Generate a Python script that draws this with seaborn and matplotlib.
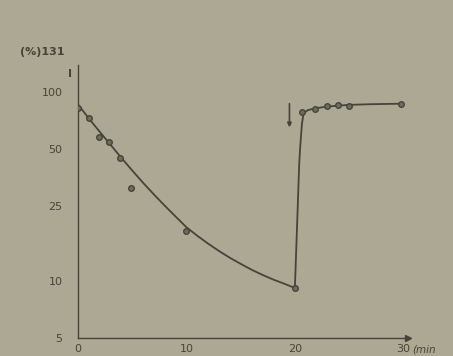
import matplotlib
matplotlib.use("Agg")
import matplotlib.pyplot as plt
import seaborn as sns
import pandas as pd

# measured points (time in min, % uptake of 131I)
pt_time = [0, 1.0, 1.95, 2.9, 3.85, 4.9, 10, 20, 20.7, 21.9, 23, 24, 25, 29.8]
pt_value = [83, 73, 58, 54.6, 45, 31, 18.4, 9.2, 78.7, 82, 84.4, 86, 84.6, 87]

# fitted curve
curve_time = [0, 1, 2, 3, 4, 5, 6, 7, 8, 9, 10,
              11, 12, 13, 14, 15, 16, 17, 18, 19, 20,
              20.2, 20.4, 20.5, 20.65, 20.8, 21.2, 22, 23, 24, 25, 27, 29.8]
curve_value = [86.4, 72.8, 61.9, 52.8, 45.0, 38.6, 33.2, 28.8, 25.1, 22.0, 19.3,
               17.4, 15.8, 14.45, 13.3, 12.35, 11.5, 10.8, 10.2, 9.7, 9.2,
               19.5, 42, 52.4, 68, 77.5, 80.5, 82.5, 84, 85, 85.8, 86.5, 87]

yticks = [5, 10, 25, 50, 100]
xticks = [0, 10, 20, 30]

bg = "#ada893"
ink = "#45443b"

sns.set_style("white")
plt.rcParams['font.family'] = ['DejaVu Sans']

fig = plt.figure(figsize=(4.53, 3.56), dpi=100)
fig.patch.set_facecolor(bg)
ax = fig.add_axes([0.172, 0.0506, 0.728, 0.766])
ax.set_facecolor(bg)

curve = pd.DataFrame({"t": curve_time, "v": curve_value})
pts = pd.DataFrame({"t": pt_time, "v": pt_value})

sns.lineplot(data=curve, x="t", y="v", ax=ax, color=ink, lw=1.3, sort=False)
sns.scatterplot(data=pts, x="t", y="v", ax=ax, s=16, color="#6e6c5e",
                edgecolor=ink, linewidth=1.0, zorder=3)

ax.set_yscale("log")
ax.set_ylim(5, 139)
ax.set_xlim(0, 30.4)
ax.set_yticks(yticks)
ax.set_yticklabels([str(v) for v in yticks])
ax.minorticks_off()
ax.set_xticks(xticks)
ax.set_xticklabels(["0", "10", "20", "30"])
ax.tick_params(axis="both", colors=ink, labelcolor=ink, labelsize=8,
               length=2, width=1, direction="inout")
ax.tick_params(axis="y", pad=10)
ax.tick_params(axis="x", pad=3)
ax.set_xlabel("")
ax.set_ylabel("")

for s in ["top", "right"]:
    ax.spines[s].set_visible(False)
for s in ["left", "bottom"]:
    ax.spines[s].set_color(ink)
    ax.spines[s].set_linewidth(1.0)

# arrow at right end of x-axis
ax.plot([30.4], [5], marker=">", color=ink, markersize=4, clip_on=False)

# units / titles
fig.text(20 / 453, 1 - 52 / 356, "(%)131", fontsize=8, color=ink,
         ha="left", va="center", fontweight="bold")
fig.text(68 / 453, 1 - 74 / 356, "I", fontsize=8, color=ink,
         ha="left", va="center", fontweight="bold")
fig.text(412 / 453, 1 - 350 / 356, "(min", fontsize=7.5, color=ink,
         ha="left", va="center", style="italic")

# downward arrow marking re-administration
ax.annotate("", xy=(19.5, 63), xytext=(19.5, 90),
            arrowprops=dict(arrowstyle="-|>", color=ink, lw=1.2,
                            mutation_scale=6))

fig.savefig("out.png", dpi=100, facecolor=bg)
